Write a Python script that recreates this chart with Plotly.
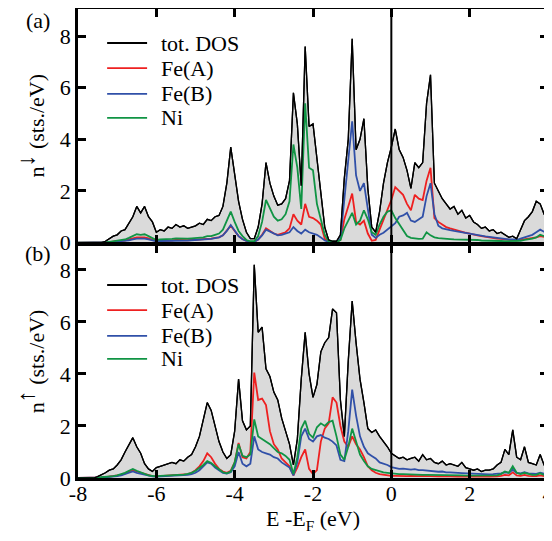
import plotly.graph_objects as go

# Energy grid (eV), 0.1 eV step from -8 to 4
energy = [round(-8 + 0.1 * i, 1) for i in range(121)]

# ---- panel (a): spin down ----
dn_tot = [0,0,0,0,0,0,0,0.05,0.15,0.25,
          0.3,0.45,0.5,0.75,1.0,1.4,1.15,1.4,1.0,0.8,
          0.4,0.5,0.45,0.6,0.55,0.7,0.6,0.65,0.55,0.6,
          0.65,0.75,0.7,0.9,0.85,1.0,1.05,1.4,2.3,3.7,
          2.7,1.6,0.9,0.4,0.15,0.15,0.6,1.5,3.1,2.3,
          1.8,1.45,1.5,1.7,2.4,5.8,4.6,2.2,7.6,4.5,
          4.6,3.2,2.0,0.6,0.1,0.05,0.05,0.3,2.5,4.0,
          7.9,3.6,4.0,4.8,2.1,0.6,0.4,1.2,2.3,3.1,
          3.7,4.4,3.6,3.3,2.8,2.1,3.1,2.9,3.1,5.4,
          6.5,2.3,2.0,1.7,1.5,1.3,1.4,1.1,1.25,0.95,
          1.05,0.8,0.7,0.55,0.6,0.45,0.5,0.35,0.4,0.3,
          0.2,0.25,0.15,0.5,0.85,1.0,1.2,1.6,1.5,1.1,
          0.9]
dn_fea = [0,0,0,0,0,0,0,0.01,0.02,0.04,
          0.05,0.07,0.08,0.12,0.15,0.2,0.2,0.2,0.16,0.12,
          0.06,0.07,0.07,0.08,0.08,0.1,0.09,0.1,0.09,0.1,
          0.11,0.12,0.12,0.15,0.15,0.18,0.2,0.28,0.45,0.65,
          0.45,0.25,0.14,0.06,0.03,0.03,0.12,0.3,0.55,0.45,
          0.35,0.3,0.35,0.4,0.55,1.1,0.85,0.7,1.5,1.0,
          0.95,0.85,0.7,0.15,0.03,0.02,0.02,0.1,0.9,1.4,
          1.9,0.8,0.7,0.85,0.35,0.07,0.1,0.5,0.9,1.3,
          1.65,2.15,2.0,1.85,1.5,1.25,1.85,1.7,1.65,2.4,
          2.9,0.95,0.8,0.7,0.6,0.55,0.5,0.45,0.4,0.38,
          0.35,0.3,0.28,0.25,0.22,0.2,0.18,0.15,0.14,0.12,
          0.1,0.1,0.08,0.1,0.12,0.15,0.18,0.2,0.25,0.22,
          0.2]
dn_feb = [0,0,0,0,0,0,0,0.01,0.02,0.03,
          0.04,0.05,0.06,0.09,0.12,0.15,0.15,0.15,0.12,0.09,
          0.05,0.06,0.06,0.07,0.07,0.08,0.08,0.08,0.08,0.09,
          0.1,0.11,0.11,0.13,0.14,0.17,0.2,0.28,0.45,0.68,
          0.45,0.25,0.13,0.06,0.03,0.03,0.12,0.28,0.5,0.42,
          0.33,0.28,0.3,0.35,0.4,0.6,0.45,0.35,0.5,0.4,
          0.35,0.3,0.2,0.08,0.03,0.02,0.02,0.15,1.6,3.0,
          4.7,2.6,2.0,2.3,1.3,0.3,0.18,0.3,0.38,0.5,
          0.6,0.75,1.0,1.05,1.15,0.85,0.8,0.9,1.0,1.8,
          2.3,1.1,0.65,0.55,0.5,0.48,0.45,0.42,0.4,0.38,
          0.35,0.32,0.3,0.27,0.24,0.22,0.2,0.17,0.15,0.13,
          0.12,0.12,0.1,0.15,0.2,0.25,0.3,0.4,0.5,0.42,
          0.35]
dn_ni = [0,0,0,0,0,0,0,0.01,0.03,0.05,
         0.07,0.1,0.12,0.18,0.25,0.32,0.3,0.32,0.25,0.18,
         0.1,0.12,0.12,0.14,0.14,0.16,0.15,0.16,0.15,0.16,
         0.18,0.2,0.2,0.25,0.25,0.3,0.35,0.5,0.85,1.2,
         0.8,0.45,0.25,0.1,0.05,0.05,0.25,0.8,1.65,1.3,
         1.0,0.85,0.9,1.1,1.6,3.8,2.9,1.3,5.4,2.9,
         2.8,1.5,0.9,0.3,0.05,0.03,0.03,0.1,0.55,0.85,
         1.15,0.7,0.85,1.25,0.9,0.4,0.3,0.7,1.0,1.2,
         1.25,0.95,0.7,0.45,0.25,0.18,0.15,0.14,0.15,0.4,
         0.28,0.2,0.17,0.15,0.14,0.13,0.12,0.12,0.12,0.11,
         0.11,0.1,0.1,0.08,0.08,0.07,0.07,0.06,0.06,0.05,
         0.05,0.05,0.05,0.07,0.1,0.12,0.15,0.2,0.3,0.25,
         0.2]

# ---- panel (b): spin up ----
up_tot = [0,0,0,0,0,0.05,0.12,0.2,0.3,0.35,
          0.5,0.7,1.0,1.3,1.55,1.2,0.95,0.55,0.35,0.25,
          0.4,0.45,0.5,0.55,0.6,0.55,0.7,0.65,0.8,0.9,
          1.2,1.6,2.2,2.9,2.6,2.0,1.4,1.0,0.75,0.9,
          1.8,3.8,2.2,1.85,2.0,8.2,5.6,5.8,4.2,3.9,
          3.3,3.0,2.3,1.8,1.3,0.5,1.5,3.8,5.6,4.0,
          3.1,3.6,4.85,5.2,5.4,6.5,6.35,3.0,1.6,4.5,
          6.8,5.2,3.8,2.9,1.9,1.75,1.85,1.6,1.4,1.2,
          0.95,0.85,0.75,0.8,0.7,0.75,0.8,0.65,0.9,0.7,
          0.75,0.6,0.55,0.65,0.5,0.55,0.5,0.45,0.6,0.4,
          0.35,0.3,0.35,0.25,0.3,0.3,0.35,0.5,0.6,1.1,
          0.9,1.85,0.8,0.7,1.2,0.6,0.55,0.5,0.9,0.5,
          0.3]
up_fea = [0,0,0,0,0,0.01,0.02,0.03,0.05,0.06,
          0.08,0.12,0.18,0.24,0.3,0.25,0.2,0.15,0.1,0.07,
          0.06,0.07,0.08,0.09,0.1,0.1,0.12,0.12,0.15,0.2,
          0.3,0.45,0.65,0.95,0.8,0.55,0.35,0.25,0.2,0.28,
          0.6,1.35,0.8,0.75,1.0,4.05,3.0,3.05,2.8,1.8,
          1.3,1.1,0.75,0.6,0.45,0.1,0.4,0.8,1.1,0.35,
          0.15,0.3,1.4,1.9,2.1,3.1,2.9,2.0,1.4,1.2,
          1.6,1.3,1.1,0.8,0.45,0.3,0.2,0.15,0.12,0.1,
          0.08,0.08,0.07,0.08,0.07,0.08,0.07,0.07,0.08,0.07,
          0.07,0.06,0.06,0.07,0.06,0.06,0.06,0.05,0.06,0.05,
          0.05,0.05,0.05,0.04,0.05,0.05,0.05,0.06,0.08,0.12,
          0.1,0.22,0.1,0.08,0.12,0.08,0.07,0.07,0.1,0.07,
          0.05]
up_feb = [0,0,0,0,0,0.01,0.02,0.03,0.04,0.05,
          0.07,0.1,0.15,0.2,0.25,0.2,0.16,0.12,0.08,0.06,
          0.05,0.06,0.07,0.08,0.08,0.08,0.1,0.1,0.12,0.15,
          0.2,0.3,0.45,0.6,0.55,0.4,0.3,0.2,0.17,0.22,
          0.45,1.0,0.55,0.45,0.55,1.6,1.1,1.0,0.95,0.9,
          0.8,0.75,0.6,0.5,0.4,0.1,0.6,1.6,1.9,1.5,
          1.4,1.6,1.65,1.55,1.5,1.4,1.25,0.7,0.65,1.8,
          3.4,2.4,1.6,1.2,0.95,0.85,0.75,0.6,0.55,0.5,
          0.42,0.38,0.35,0.36,0.33,0.32,0.34,0.3,0.3,0.28,
          0.27,0.25,0.24,0.25,0.22,0.22,0.2,0.2,0.19,0.18,
          0.17,0.16,0.16,0.15,0.15,0.14,0.15,0.16,0.18,0.22,
          0.2,0.32,0.2,0.18,0.22,0.18,0.16,0.16,0.2,0.16,
          0.14]
up_ni = [0,0,0,0,0,0.01,0.03,0.04,0.06,0.07,
         0.1,0.14,0.2,0.28,0.35,0.28,0.22,0.16,0.1,0.08,
         0.06,0.08,0.09,0.1,0.1,0.1,0.12,0.13,0.16,0.2,
         0.28,0.38,0.5,0.65,0.58,0.45,0.32,0.22,0.18,0.25,
         0.6,1.3,0.85,0.8,0.9,2.25,1.6,1.5,1.4,1.3,
         1.15,1.0,0.95,0.85,0.7,0.15,0.8,1.9,2.2,1.7,
         1.55,1.95,2.1,2.0,2.15,2.2,1.6,0.9,0.7,1.2,
         1.9,1.4,0.9,0.65,0.45,0.35,0.3,0.25,0.22,0.2,
         0.18,0.16,0.15,0.15,0.14,0.14,0.13,0.13,0.12,0.12,
         0.12,0.11,0.11,0.11,0.1,0.1,0.1,0.1,0.1,0.09,
         0.09,0.09,0.08,0.08,0.08,0.08,0.09,0.1,0.15,0.25,
         0.2,0.45,0.2,0.15,0.2,0.15,0.12,0.12,0.18,0.12,
         0.1]

series_names = ["tot. DOS", "Fe(A)", "Fe(B)", "Ni"]
x_ticks = [-8, -6, -4, -2, 0, 2, 4]
y_ticks = [0, 2, 4, 6, 8]

FONT = "Liberation Serif"
FS = 22
C_TOT, C_FEA, C_FEB, C_NI = "#000000", "#ee2020", "#3050a8", "#109444"
COLORS = [C_TOT, C_FEA, C_FEB, C_NI]
FILL = "#dadada"

fig = go.Figure()

panels = [
    (dict(tot=dn_tot, fea=dn_fea, feb=dn_feb, ni=dn_ni), "x", "y"),
    (dict(tot=up_tot, fea=up_fea, feb=up_feb, ni=up_ni), "x2", "y2"),
]
for d, xa, ya in panels:
    fig.add_trace(go.Scatter(x=energy, y=d["tot"], xaxis=xa, yaxis=ya, mode="lines",
                             line=dict(color=C_TOT, width=1.3), fill="tozeroy",
                             fillcolor=FILL, name=series_names[0], showlegend=False))
    fig.add_trace(go.Scatter(x=energy, y=d["fea"], xaxis=xa, yaxis=ya, mode="lines",
                             line=dict(color=C_FEA, width=1.8), name=series_names[1],
                             showlegend=False))
    fig.add_trace(go.Scatter(x=energy, y=d["feb"], xaxis=xa, yaxis=ya, mode="lines",
                             line=dict(color=C_FEB, width=1.8), name=series_names[2],
                             showlegend=False))
    fig.add_trace(go.Scatter(x=energy, y=d["ni"], xaxis=xa, yaxis=ya, mode="lines",
                             line=dict(color=C_NI, width=1.8), name=series_names[3],
                             showlegend=False))
    fig.add_trace(go.Scatter(x=energy, y=d["tot"], xaxis=xa, yaxis=ya, mode="lines",
                             line=dict(color=C_TOT, width=1.3), showlegend=False,
                             hoverinfo="skip"))

axis_common = dict(showline=True, linecolor="black", linewidth=2.5, mirror="ticks",
                   ticks="inside", ticklen=8, tickwidth=2.5, tickcolor="black",
                   showgrid=False, zeroline=False, automargin=False,
                   tickfont=dict(family=FONT, size=FS, color="black"))

shapes = [
    dict(type="line", xref="x", yref="y domain", x0=0, x1=0, y0=0, y1=1,
         line=dict(color="black", width=2)),
    dict(type="line", xref="x2", yref="y2 domain", x0=0, x1=0, y0=0, y1=1,
         line=dict(color="black", width=2)),
]
annotations = []
legend_rows = {"top": [0.9275, 0.874, 0.819, 0.768], "bottom": [0.4115, 0.358, 0.303, 0.254]}
for key in ("top", "bottom"):
    for name, col, yy in zip(series_names, COLORS, legend_rows[key]):
        shapes.append(dict(type="line", xref="paper", yref="paper", x0=0.062, x1=0.147,
                           y0=yy, y1=yy, line=dict(color=col, width=1.8)))
        annotations.append(dict(text=name, xref="paper", yref="paper", x=0.172, y=yy,
                                xanchor="left", yanchor="middle", showarrow=False,
                                font=dict(family=FONT, size=FS, color="black")))

annotations += [
    dict(text="(a)", xref="paper", yref="paper", x=-0.085, y=0.975, xanchor="center",
         yanchor="middle", showarrow=False, font=dict(family=FONT, size=FS)),
    dict(text="(b)", xref="paper", yref="paper", x=-0.085, y=0.478, xanchor="center",
         yanchor="middle", showarrow=False, font=dict(family=FONT, size=FS)),
]

ARROW_DN = "n<sup><span style='font-size:24px'>↓</span></sup> (sts./eV)"
ARROW_UP = "n<sup><span style='font-size:24px'>↑</span></sup> (sts./eV)"

fig.update_layout(
    width=544, height=533,
    margin=dict(l=70, r=4, t=1, b=63),
    paper_bgcolor="white", plot_bgcolor="white",
    font=dict(family=FONT, size=FS, color="black"),
    showlegend=False,
    xaxis=dict(domain=[0, 1], range=[-8, 4], tickvals=x_ticks, anchor="y",
               showticklabels=False, **axis_common),
    yaxis=dict(domain=[0.502, 1], range=[0, 9.05], tickvals=y_ticks, anchor="x",
               title=dict(text=ARROW_DN, standoff=10,
                          font=dict(family=FONT, size=FS)), **axis_common),
    xaxis2=dict(domain=[0, 1], range=[-8, 4], tickvals=x_ticks,
                ticktext=[str(v) for v in x_ticks], anchor="y2", ticklabelstandoff=-6,
                ticklabeloverflow="allow",
                title=dict(text="E -E<sub>F</sub> (eV)", standoff=4,
                           font=dict(family=FONT, size=FS)), **axis_common),
    yaxis2=dict(domain=[0, 0.497], range=[0, 8.96], tickvals=y_ticks, anchor="x2",
                title=dict(text=ARROW_UP, standoff=10,
                           font=dict(family=FONT, size=FS)), **axis_common),
    shapes=shapes,
    annotations=annotations,
)

fig.write_html("out.html")
